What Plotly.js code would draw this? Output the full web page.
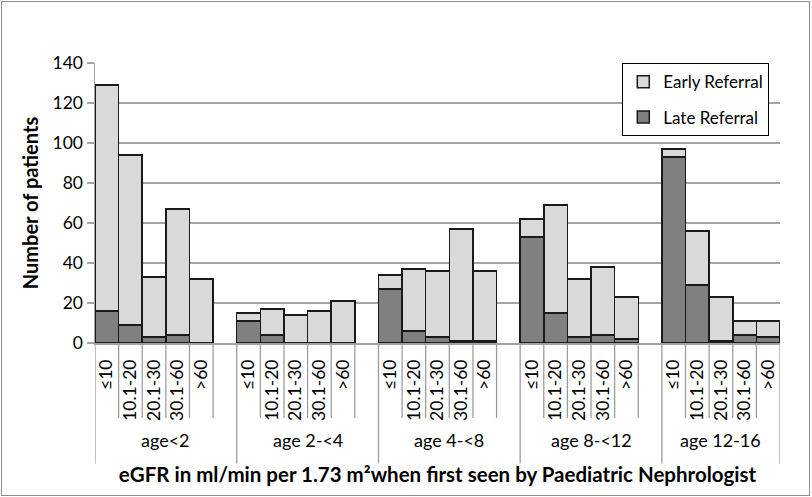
<!DOCTYPE html>
<html>
<head>
<meta charset="utf-8">
<script src="https://cdn.plot.ly/plotly-3.0.1.min.js"></script>
<style>
  html, body { margin: 0; padding: 0; background: #fff; }
  #wrap { position: relative; width: 812px; height: 497px; }
  #chart { width: 812px; height: 497px; }
  #frame { position: absolute; left: 1px; top: 1px; width: 807px; height: 493px;
           border: 1px solid #8c8c8c; pointer-events: none; }
</style>
</head>
<body>
<div id="wrap"><div id="chart"></div><div id="frame"></div></div>
<script>
// ---- data ----
const ageGroups = ["age<2", "age 2-<4", "age 4-<8", "age 8-<12", "age 12-16"];
const egfrCategories = ["≤10", "10.1-20", "20.1-30", "30.1-60", ">60"];
// per age group, in egfrCategories order
const lateReferral = [
  16, 9, 3, 4, 0,
  11, 4, 0, 0, 0,
  27, 6, 3, 1, 1,
  53, 15, 3, 4, 2,
  93, 29, 1, 4, 3
];
const earlyReferral = [
  113, 85, 30, 63, 32,
  4, 13, 14, 16, 21,
  7, 31, 33, 56, 35,
  9, 54, 29, 34, 21,
  4, 27, 22, 7, 8
];
const yTickValues = [0, 20, 40, 60, 80, 100, 120, 140];

// ---- build positions: each age group takes its categories plus one empty slot ----
const slotsPerGroup = egfrCategories.length + 1;
const xPos = [], tickText = [];
ageGroups.forEach((g, gi) => {
  egfrCategories.forEach((c, ci) => {
    xPos.push(gi * slotsPerGroup + ci);
    tickText.push(c);
  });
});
const xMin = -0.5;
const xMax = (ageGroups.length - 1) * slotsPerGroup + egfrCategories.length - 0.5;

const FONT = "Lato, 'Open Sans', sans-serif";
const GRID = "#a3a3a3";

const traces = [
  {
    type: "bar", name: "Late Referral", x: xPos, y: lateReferral,
    marker: { color: "#808080", line: { color: "#1a1a1a", width: 1.5 } },
    width: 1, legendgroup: "late", legendrank: 2, hoverinfo: "y+name"
  },
  {
    type: "bar", name: "Early Referral", x: xPos, y: earlyReferral,
    marker: { color: "#d9d9d9", line: { color: "#1a1a1a", width: 1.5 } },
    width: 1, legendgroup: "early", legendrank: 1, hoverinfo: "y+name"
  }
];

// category cell lines and group divider lines below the x axis
const shapes = [];
for (let b = xMin; b <= xMax + 1e-9; b += 1) {
  const k = b - xMin;
  const isGroupEdge = (k % slotsPerGroup === 0) || Math.abs(b - xMax) < 1e-9;
  shapes.push({
    type: "line", xref: "x", yref: "paper",
    x0: b, x1: b, y0: 0, y1: isGroupEdge ? -0.43 : -0.268,
    line: { color: "#9a9a9a", width: 1.25 }, layer: "above"
  });
}

// group labels
const annotations = ageGroups.map((g, gi) => {
  const start = gi * slotsPerGroup - 0.5;
  const end = Math.min(start + slotsPerGroup, xMax);
  return {
    text: g, xref: "x", yref: "paper", x: (start + end) / 2, y: -0.345,
    xanchor: "center", yanchor: "middle", showarrow: false,
    font: { family: FONT, size: 18, color: "#000" }
  };
});

const layout = {
  width: 812, height: 497,
  margin: { l: 95, r: 32, t: 63, b: 154 },
  paper_bgcolor: "#fff", plot_bgcolor: "#fff",
  barmode: "stack", bargap: 0,
  font: { family: FONT, size: 17, color: "#000" },
  showlegend: true,
  legend: {
    x: 0.984, xanchor: "right", y: 1, yanchor: "top",
    bgcolor: "#fff", bordercolor: "#000", borderwidth: 1.25,
    font: { family: FONT, size: 17, color: "#000" },
    traceorder: "grouped", tracegroupgap: 10
  },
  xaxis: {
    range: [xMin, xMax], tickmode: "array", tickvals: xPos, ticktext: tickText,
    tickangle: -90, ticks: "", ticklabelstandoff: 8,
    showgrid: false, zeroline: false,
    showline: true, linecolor: GRID, linewidth: 1.5,
    tickfont: { family: FONT, size: 17.5, color: "#000" },
    title: {
      text: "eGFR in ml/min per 1.73 m²when first seen by Paediatric Nephrologist",
      font: { family: FONT, size: 20.5, color: "#000", weight: "bold" },
      standoff: 48
    },
    automargin: false, fixedrange: true
  },
  yaxis: {
    range: [0, 140], tickmode: "array", tickvals: yTickValues,
    ticks: "outside", ticklen: 7, tickcolor: GRID, tickwidth: 1.5,
    showgrid: true, gridcolor: GRID, gridwidth: 1.5,
    zeroline: false, showline: true, linecolor: GRID, linewidth: 1.5,
    tickfont: { family: FONT, size: 17.5, color: "#000" },
    title: {
      text: "Number of patients",
      font: { family: FONT, size: 20, color: "#000", weight: "bold" },
      standoff: 8
    },
    automargin: false, fixedrange: true
  },
  shapes: shapes,
  annotations: annotations
};

Plotly.newPlot("chart", traces, layout, { displayModeBar: false, staticPlot: true });
</script>
</body>
</html>
